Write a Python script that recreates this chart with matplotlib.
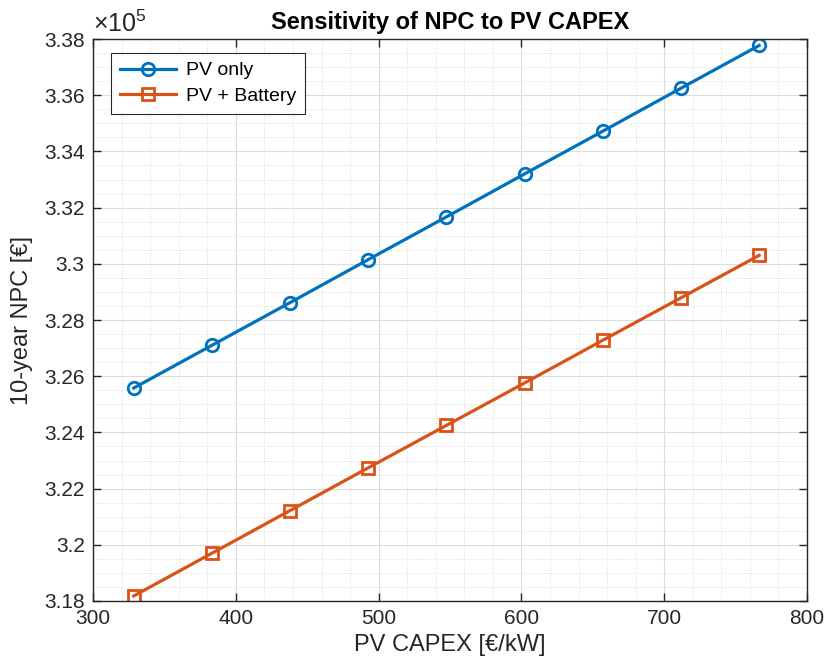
import matplotlib
matplotlib.use("Agg")
import matplotlib.pyplot as plt
from matplotlib.ticker import MultipleLocator, FuncFormatter

# Data
pv_capex = [328.5, 383.25, 438.0, 492.75, 547.5, 602.25, 657.0, 711.75, 766.5]
npc_pv_only = [325580, 327100, 328620, 330150, 331670, 333200, 334720, 336250, 337770]
npc_pv_batt = [318180, 319700, 321220, 322740, 324250, 325760, 327280, 328790, 330300]

series_labels = ["PV only", "PV + Battery"]
blue = "#0072BD"
orange = "#D95319"
axis_col = "#262626"

plt.rcParams.update({
    "font.family": ["Liberation Sans", "DejaVu Sans"],
    "font.size": 15,
    "axes.linewidth": 1.0,
    "mathtext.fontset": "custom",
    "mathtext.rm": "Liberation Sans",
})

fig = plt.figure(figsize=(8.27, 6.68), dpi=100)
ax = fig.add_axes([0.1125, 0.1003, 0.8633, 0.8413])

ax.plot(pv_capex, npc_pv_only, color=blue, lw=2.3, marker="o", ms=9,
        mfc="none", mew=2.0, label=series_labels[0])
ax.plot(pv_capex, npc_pv_batt, color=orange, lw=2.3, marker="s", ms=8,
        mfc="none", mew=2.0, label=series_labels[1])

ax.set_xlim(300, 800)
ax.set_ylim(318000, 338000)
ax.xaxis.set_major_locator(MultipleLocator(100))
ax.xaxis.set_minor_locator(MultipleLocator(20))
ax.yaxis.set_major_locator(MultipleLocator(2000))
ax.yaxis.set_minor_locator(MultipleLocator(500))
ax.yaxis.set_major_formatter(FuncFormatter(lambda v, p: f"{v / 1e5:g}"))

ax.grid(which="major", color="#dcdcdc", lw=0.8)
ax.grid(which="minor", color="#cfcfcf", lw=0.6, ls=(0, (1, 2)))
ax.set_axisbelow(True)

ax.tick_params(which="both", direction="in", top=True, right=True,
               colors=axis_col, labelcolor=axis_col, labelsize=15, pad=6)
ax.tick_params(which="major", length=6, width=1.0)
ax.tick_params(which="minor", length=0)
for s in ax.spines.values():
    s.set_color(axis_col)

ax.text(0.0, 1.004, r"$\times\mathrm{10}^{5}$", transform=ax.transAxes,
        ha="left", va="bottom", fontsize=18, color=axis_col)

ax.set_xlabel("PV CAPEX [€/kW]", fontsize=17, color=axis_col, labelpad=4)
ax.set_ylabel("10-year NPC [€]", fontsize=17, color=axis_col, labelpad=8)
ax.set_title("Sensitivity of NPC to PV CAPEX", fontsize=17, fontweight="bold", pad=7)

leg = ax.legend(loc="upper left", bbox_to_anchor=(0.025, 0.975), fontsize=14,
                fancybox=False, edgecolor=axis_col, framealpha=1.0,
                handlelength=2.9, borderpad=0.45, labelspacing=0.4,
                handletextpad=0.5, borderaxespad=0.0)
leg.get_frame().set_linewidth(0.8)

fig.savefig("out.png", dpi=100)
